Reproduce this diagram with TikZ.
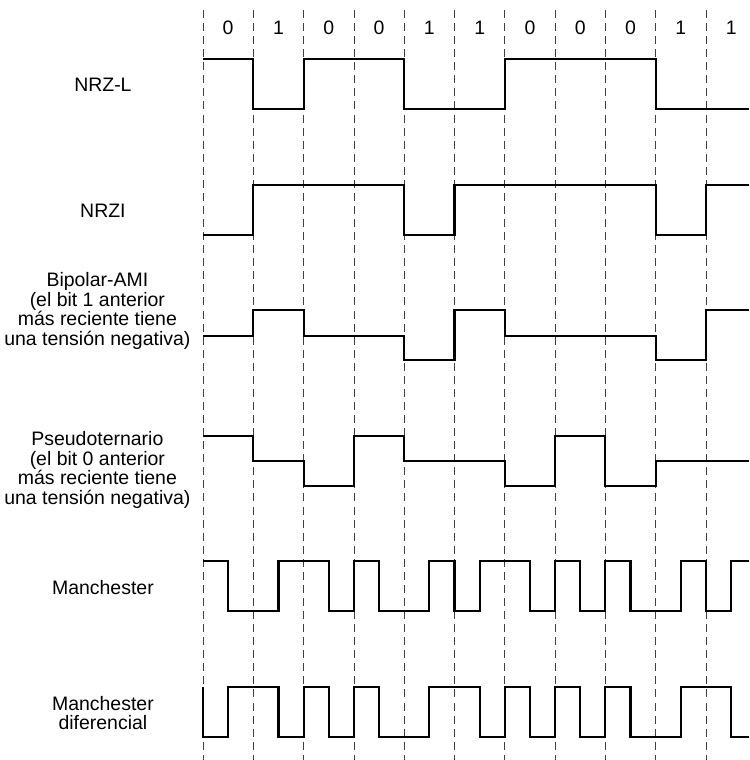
\documentclass[tikz,border=0pt]{standalone}
\usepackage{fontspec}
\setmainfont{Liberation Sans}
\begin{document}
\begin{tikzpicture}[
                    x=37.725pt, y=-0.75pt,
                    grid/.style = {draw=black!75, line width=0.6pt, dash pattern=on 6pt off 3.8pt},
                    sig/.style = {draw=black, line width=1.6pt, line join=miter},
                    lbl/.style = {align=center, inner sep=0pt, font=\fontsize{14.6}{14.6}\selectfont},
                    bit/.style = {inner sep=0pt, font=\fontsize{14.6}{14.6}\selectfont}
                ]
                    \useasboundingbox (-4.036,0) rectangle (10.855,760);

                    \foreach \i in {0,...,10}
                        \draw[grid] (\i,10) -- (\i,760);

                    \foreach \b [count=\i from 0] in {0,1,0,0,1,1,0,0,0,1,1}
                        \node[bit] (bit\i) at (\i+0.5,28) {\b};

                    \node[lbl] (nrzl) at (-1.99,85) {NRZ-L};
                    \node[lbl] (nrzi) at (-1.99,211) {NRZI};
                    \node[lbl] (ami) at (-2.1,311) {Bipolar-AMI\\(el bit 1 anterior\\más reciente tiene\\una tensión negativa)};
                    \node[lbl] (pseudo) at (-2.1,470) {Pseudoternario\\(el bit 0 anterior\\más reciente tiene\\una tensión negativa)};
                    \node[lbl] (manch) at (-1.99,588) {Manchester};
                    \node[lbl] (dmanch) at (-1.99,713) {Manchester\\diferencial};

                    % NRZ-L
                    \draw[sig] (0,59) foreach \x/\y in {1/59, 2/109, 4/59, 6/109, 9/59, 10.855/109} { |- (\x,\y) };
                    % NRZI
                    \draw[sig] (0,235) foreach \x/\y in {1/235, 4/185, 5/235, 9/185, 10/235, 10.855/185} { |- (\x,\y) };
                    % Bipolar-AMI
                    \draw[sig] (0,336) foreach \x/\y in {1/336, 2/310, 4/336, 5/360, 6/310, 9/336, 10/360, 10.855/310} { |- (\x,\y) };
                    % Pseudoternario
                    \draw[sig] (0,436) foreach \x/\y in {1/436, 2/461, 3/486, 4/436, 6/461, 7/486, 8/436, 9/486, 10.855/461} { |- (\x,\y) };
                    % Manchester
                    \draw[sig] (0,561) foreach \x/\y in {0.5/561, 1.5/611, 2.5/561, 3/611, 3.5/561, 4.5/611, 5/561, 5.5/611, 6.5/561,
                        7/611, 7.5/561, 8/611, 8.5/561, 9.5/611, 10/561, 10.5/611, 10.855/561} { |- (\x,\y) };
                    % Manchester diferencial
                    \draw[sig] (0,687) foreach \x/\y in {0.5/737, 1.5/687, 2/737, 2.5/687, 3/737, 3.5/687, 4.5/737, 5.5/687, 6/737,
                        6.5/687, 7/737, 7.5/687, 8/737, 8.5/687, 9.5/737, 10.5/687, 10.855/737} { |- (\x,\y) };
                \end{tikzpicture}
\end{document}
